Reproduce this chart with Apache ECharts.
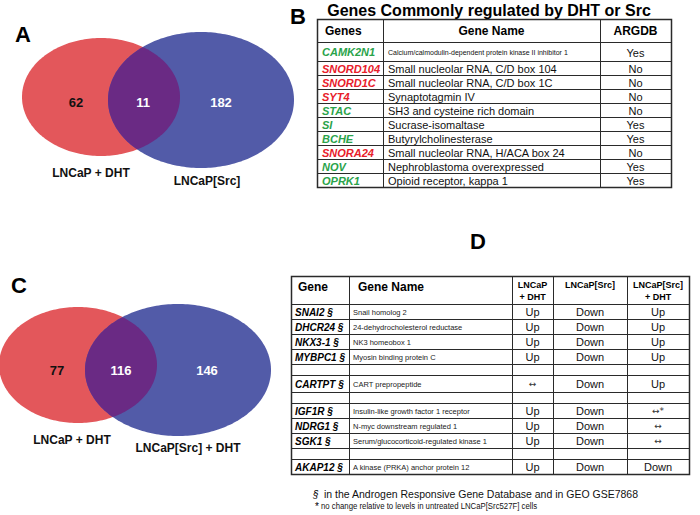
<!DOCTYPE html>
<html><head><meta charset="utf-8">
<script src="https://cdn.jsdelivr.net/npm/echarts@6/dist/echarts.min.js"></script>
<style>html,body{margin:0;padding:0;background:#fff}#c{width:700px;height:515px}</style>
</head><body><div id="c"></div>
<script>
// ---------------- DATA ----------------
const vennACounts = [62, 11, 182];
const vennASets = ['LNCaP + DHT', 'LNCaP[Src]'];
const vennCCounts = [77, 116, 146];
const vennCSets = ['LNCaP + DHT', 'LNCaP[Src] + DHT'];

const panelLetters = ['A', 'B', 'C', 'D'];

const tableBTitle = 'Genes Commonly regulated by DHT or Src';
const tableBHeaders = ['Genes', 'Gene Name', 'ARGDB'];
const tableBGenes = ['CAMK2N1', 'SNORD104', 'SNORD1C', 'SYT4', 'STAC', 'SI', 'BCHE', 'SNORA24', 'NOV', 'OPRK1'];
const tableBNames = ['Calcium/calmodulin-dependent protein kinase II inhibitor 1', 'Small nucleolar RNA, C/D box 104',
  'Small nucleolar RNA, C/D box 1C', 'Synaptotagmin IV', 'SH3 and cysteine rich domain', 'Sucrase-isomaltase',
  'Butyrylcholinesterase', 'Small nucleolar RNA, H/ACA box 24', 'Nephroblastoma overexpressed', 'Opioid receptor, kappa 1'];
const tableBArgdb = ['Yes', 'No', 'No', 'No', 'No', 'Yes', 'Yes', 'No', 'Yes', 'Yes'];
const tableBDirection = ['down', 'up', 'up', 'up', 'down', 'down', 'down', 'up', 'down', 'down'];

const tableDHeaders = ['Gene', 'Gene Name', 'LNCaP\n+ DHT', 'LNCaP[Src]', 'LNCaP[Src]\n+ DHT'];
const tableDGenes = ['SNAI2 §', 'DHCR24 §', 'NKX3-1 §', 'MYBPC1 §', '', 'CARTPT §', '', 'IGF1R §', 'NDRG1 §', 'SGK1 §', '', 'AKAP12 §'];
const tableDNames = ['Snail homolog 2', '24-dehydrocholesterol reductase', 'NK3 homeobox 1', 'Myosin binding protein C', '',
  'CART prepropeptide', '', 'Insulin-like growth factor 1 receptor', 'N-myc downstream regulated 1',
  'Serum/glucocorticoid-regulated kinase 1', '', 'A kinase (PRKA) anchor protein 12'];
const tableDDht = ['Up', 'Up', 'Up', 'Up', '', '↔', '', 'Up', 'Up', 'Up', '', 'Up'];
const tableDSrc = ['Down', 'Down', 'Down', 'Down', '', 'Down', '', 'Down', 'Down', 'Down', '', 'Down'];
const tableDSrcDht = ['Up', 'Up', 'Up', 'Up', '', 'Up', '', '↔*', '↔', '↔', '', 'Down'];

const footnoteMarks = ['§', '*'];
const footnoteTexts = ['in the Androgen Responsive Gene Database and in GEO GSE7868',
  'no change relative to levels in untreated LNCaP[Src527F] cells'];

// ---------------- LAYOUT / STYLE ----------------
const FONT = '"Liberation Sans", Arial, Helvetica, sans-serif';
const SYMFONT = '"DejaVu Sans", sans-serif';
const RED = '#e3575b', BLUE = '#525ba8', OVER = '#6a2a84';
const GENE_COL = { up: '#e8202a', down: '#2aa34a' };
const LINE = '#2a2a2a';

const vennLayout = [
  { red: [101, 97, 79, 59], blue: [201, 100, 93, 68],
    counts: [[76, 102], [143, 102], [221, 102]], labels: [[91, 173], [207, 181]] },
  { red: [78, 365, 79, 58], blue: [178, 370, 93, 66],
    counts: [[57, 370], [121, 370], [207, 370]], labels: [[72, 440], [188, 448]] }
];
const vennData = [[vennACounts, vennASets], [vennCCounts, vennCSets]];
const letterPos = [[23, 34], [298, 16], [19, 285], [478, 241]];

const tB = { cols: [317, 383, 600, 671], rows: [19, 42, 61, 75, 89, 103, 117, 131, 145, 159, 173, 187], title: [489, 10] };
const tD = { cols: [291, 349, 512, 553, 627, 689], rows: [276, 304, 319, 334, 349, 364, 375, 392, 403, 418, 433, 448, 459, 474] };
const footPos = [[[313, 494], [324, 494]], [[315, 506], [321, 506]]];
const footSize = [10.5, 9.5];
const footScaleX = [1, 0.82];

// ---------------- RENDER ----------------
const chart = echarts.init(document.getElementById('c'), null, { renderer: 'svg', width: 700, height: 515 });

function txt(api, x, y, text, o, extra) {
  const p = api.coord([x, y]);
  return Object.assign({ type: 'text', x: p[0], y: p[1], silent: true,
    style: Object.assign({ text: text, fill: '#000', fontFamily: FONT, fontSize: 11,
      align: 'left', verticalAlign: 'middle' }, o || {}) }, extra || {});
}
function cell(api, x0, y0, x1, y1, lw) {
  const a = api.coord([x0, y0]), b = api.coord([x1, y1]);
  const off = (lw || 1) % 2 ? 0.5 : 0;
  return { type: 'rect', silent: true,
    shape: { x: Math.round(a[0]) + off, y: Math.round(a[1]) + off,
      width: Math.round(b[0]) - Math.round(a[0]), height: Math.round(b[1]) - Math.round(a[1]) },
    style: { fill: 'none', stroke: LINE, lineWidth: lw || 1 } };
}
function ellPts(e, n) {
  const pts = [];
  for (let i = 0; i < n; i++) { const t = 2 * Math.PI * i / n; pts.push([e[0] + e[2] * Math.cos(t), e[1] + e[3] * Math.sin(t)]); }
  return pts;
}
function inEll(p, e) { const dx = (p[0] - e[0]) / e[2], dy = (p[1] - e[1]) / e[3]; return dx * dx + dy * dy <= 1; }

function renderVenn(params, api) {
  const k = api.value(0);
  const lay = vennLayout[k], counts = vennData[k][0], sets = vennData[k][1];
  const rp = ellPts(lay.red, 240), bp = ellPts(lay.blue, 240);
  let inter = rp.filter(p => inEll(p, lay.blue)).concat(bp.filter(p => inEll(p, lay.red)));
  const cx = inter.reduce((s, p) => s + p[0], 0) / inter.length, cy = inter.reduce((s, p) => s + p[1], 0) / inter.length;
  inter.sort((a, b) => Math.atan2(a[1] - cy, a[0] - cx) - Math.atan2(b[1] - cy, b[0] - cx));
  const toPx = arr => arr.map(p => api.coord(p));
  const ch = [
    { type: 'polygon', silent: true, shape: { points: toPx(rp) }, style: { fill: RED } },
    { type: 'polygon', silent: true, shape: { points: toPx(bp) }, style: { fill: BLUE } },
    { type: 'polygon', silent: true, shape: { points: toPx(inter) }, style: { fill: OVER } }
  ];
  counts.forEach((c, i) => ch.push(txt(api, lay.counts[i][0], lay.counts[i][1], String(c),
    { align: 'center', fontWeight: 'bold', fontSize: 13, fill: i === 0 ? '#111' : '#fff' })));
  sets.forEach((s, i) => ch.push(txt(api, lay.labels[i][0], lay.labels[i][1], s,
    { align: 'center', fontWeight: 'bold', fontSize: 12, fill: '#111' })));
  return { type: 'group', children: ch };
}

function renderTableB(params, api) {
  const r = api.value(0);
  const y0 = tB.rows[r], y1 = tB.rows[r + 1], ym = (y0 + y1) / 2 + 0.5, c = tB.cols;
  const ch = [];
  for (let j = 0; j < 3; j++) ch.push(cell(api, c[j], y0, c[j + 1], y1, 1));
  if (r === 0) {
    ch.push(cell(api, c[0], tB.rows[0], c[3], tB.rows[tB.rows.length - 1], 1.5));
    ch.push(txt(api, tB.title[0], tB.title[1], tableBTitle, { align: 'center', fontWeight: 'bold', fontSize: 16 }));
    ch.push(txt(api, c[0] + 8, ym, tableBHeaders[0], { fontWeight: 'bold', fontSize: 12 }));
    ch.push(txt(api, (c[1] + c[2]) / 2, ym, tableBHeaders[1], { align: 'center', fontWeight: 'bold', fontSize: 12 }));
    ch.push(txt(api, (c[2] + c[3]) / 2, ym, tableBHeaders[2], { align: 'center', fontWeight: 'bold', fontSize: 12 }));
  } else {
    const i = r - 1;
    ch.push(txt(api, c[0] + 5, ym, tableBGenes[i], { fontWeight: 'bold', fontStyle: 'italic', fontSize: 11, fill: GENE_COL[tableBDirection[i]] }));
    const small = tableBNames[i].length > 40;
    ch.push(txt(api, c[1] + 5, ym, tableBNames[i], { fontSize: small ? 7 : 11, fill: '#111' }));
    ch.push(txt(api, (c[2] + c[3]) / 2, ym + (small ? 1 : 0), tableBArgdb[i], { align: 'center', fontSize: 11, fill: '#111' }));
  }
  return { type: 'group', children: ch };
}

function renderTableD(params, api) {
  const r = api.value(0);
  const y0 = tD.rows[r], y1 = tD.rows[r + 1], ym = (y0 + y1) / 2 + 0.5, c = tD.cols;
  const ch = [];
  for (let j = 0; j < 5; j++) ch.push(cell(api, c[j], y0, c[j + 1], y1, 1));
  if (r === 0) {
    ch.push(cell(api, c[0], tD.rows[0], c[5], tD.rows[tD.rows.length - 1], 1.5));
    ch.push(txt(api, c[0] + 7, y0 + 11, tableDHeaders[0], { fontWeight: 'bold', fontSize: 12 }));
    ch.push(txt(api, c[1] + 9, y0 + 11, tableDHeaders[1], { fontWeight: 'bold', fontSize: 12 }));
    for (let j = 2; j < 5; j++) {
      const lines = tableDHeaders[j].split('\n');
      lines.forEach((t, li) => ch.push(txt(api, (c[j] + c[j + 1]) / 2, y0 + 9 + li * 12, t,
        { align: 'center', fontWeight: 'bold', fontSize: 9 })));
    }
  } else {
    const i = r - 1;
    ch.push(txt(api, c[0] + 4, ym, tableDGenes[i], { fontWeight: 'bold', fontStyle: 'italic', fontSize: 10 }));
    ch.push(txt(api, c[1] + 4, ym, tableDNames[i], { fontSize: 7.5, fill: '#222' }));
    [tableDDht, tableDSrc, tableDSrcDht].forEach((arr, k) => {
      const v = arr[i];
      const isArrow = v.indexOf('↔') === 0;
      ch.push(txt(api, (c[k + 2] + c[k + 3]) / 2, ym, v,
        isArrow ? { align: 'center', fontSize: 9, fill: '#333', fontFamily: SYMFONT }
                : { align: 'center', fontSize: 11, fill: '#111' }));
    });
  }
  return { type: 'group', children: ch };
}

function renderExtras(params, api) {
  const ch = [];
  panelLetters.forEach((l, i) => ch.push(txt(api, letterPos[i][0], letterPos[i][1], l,
    { align: 'center', fontWeight: 'bold', fontSize: 22 })));
  footnoteTexts.forEach((t, i) => {
    ch.push(txt(api, footPos[i][0][0], footPos[i][0][1], footnoteMarks[i],
      { fontSize: 10, fontStyle: i === 0 ? 'italic' : 'normal' }));
    ch.push(txt(api, footPos[i][1][0], footPos[i][1][1], t, { fontSize: footSize[i], fill: '#111' },
      { scaleX: footScaleX[i] }));
  });
  return { type: 'group', children: ch };
}

chart.setOption({
  animation: false,
  backgroundColor: '#fff',
  grid: { left: 0, right: 0, top: 0, bottom: 0 },
  xAxis: { type: 'value', min: 0, max: 700, show: false },
  yAxis: { type: 'value', min: 0, max: 515, inverse: true, show: false },
  series: [
    { type: 'custom', renderItem: renderVenn, data: [[0], [1]], silent: true, clip: false },
    { type: 'custom', renderItem: renderTableB, data: tableBGenes.map((g, i) => [i + 1]).concat([[0]]), silent: true, clip: false },
    { type: 'custom', renderItem: renderTableD, data: tableDGenes.map((g, i) => [i + 1]).concat([[0]]), silent: true, clip: false },
    { type: 'custom', renderItem: renderExtras, data: [[0]], silent: true, clip: false }
  ]
});
</script></body></html>
